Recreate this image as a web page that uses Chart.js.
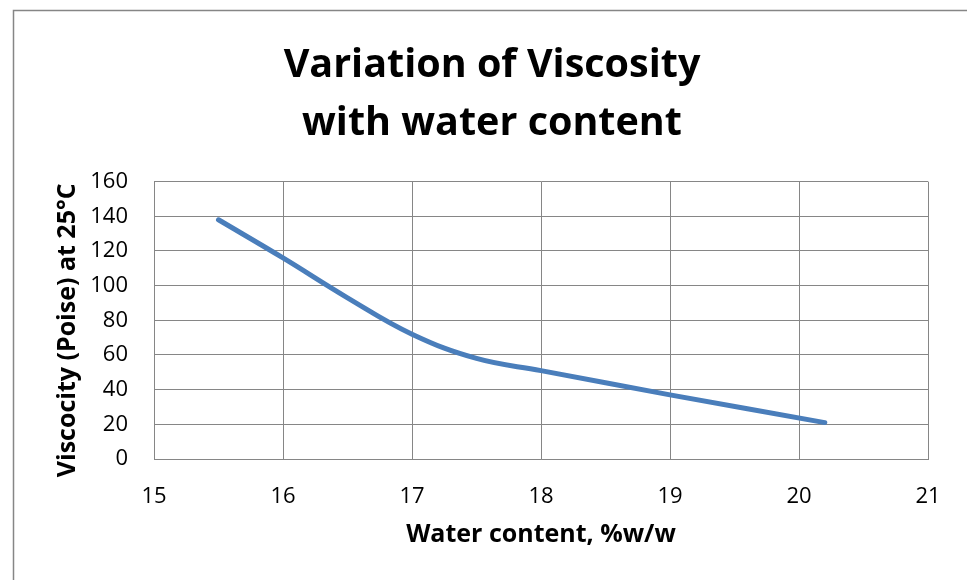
<!DOCTYPE html>
<html><head><meta charset="utf-8">
<script src="https://cdn.jsdelivr.net/npm/chart.js@4/dist/chart.umd.min.js"></script>
<style>html,body{margin:0;padding:0;background:#fff}#wrap{width:967px;height:580px;position:relative}</style>
</head><body><div id="wrap"><canvas id="c" width="967" height="580"></canvas></div>
<script>
const waterContent = [15.5, 16, 16.5, 17, 17.5, 18, 19, 20.2];
const viscosity = [138, 116, 93, 72, 58, 51, 37, 21];
const xTicks = [15, 16, 17, 18, 19, 20, 21];
const yTicks = [0, 20, 40, 60, 80, 100, 120, 140, 160];
const titleLines = ['Variation of Viscosity', 'with water content'];
const xTitle = 'Water content, %w/w';
const yTitle = 'Viscocity (Poise) at 25°C';

const FONT = '"Open Sans", sans-serif';
const GRID = '#868686';

const points = waterContent.map((x, i) => ({x, y: viscosity[i]}));

const framePlugin = {
  id: 'frame',
  beforeDraw(chart) {
    const ctx = chart.ctx;
    ctx.save();
    ctx.fillStyle = '#fff';
    ctx.fillRect(0, 0, chart.width, chart.height);
    ctx.strokeStyle = GRID;
    ctx.lineWidth = 1.5;
    ctx.strokeRect(13.5, 10.5, 1000, 1000);
    ctx.restore();
  }
};

const yTitlePlugin = {
  id: 'yTitle',
  afterDraw(chart) {
    const ctx = chart.ctx;
    const area = chart.chartArea;
    ctx.save();
    ctx.translate(68, (area.top + area.bottom) / 2 + 10);
    ctx.rotate(-Math.PI / 2);
    ctx.font = 'bold 25px ' + FONT;
    ctx.fillStyle = '#000';
    ctx.textAlign = 'center';
    ctx.textBaseline = 'middle';
    ctx.fillText(yTitle, 0, 0);
    ctx.restore();
  }
};

new Chart(document.getElementById('c'), {
  type: 'line',
  data: {
    datasets: [{
      data: points,
      borderColor: '#4a7ebb',
      borderWidth: 5,
      pointRadius: 0,
      tension: 0.4,
      borderCapStyle: 'round',
      fill: false
    }]
  },
  plugins: [framePlugin, yTitlePlugin],
  options: {
    responsive: false,
    animation: false,
    layout: {padding: {left: 56, top: 10, right: 39, bottom: 0}},
    plugins: {
      legend: {display: false},
      tooltip: {enabled: false},
      title: {
        display: true,
        text: titleLines,
        color: '#000',
        font: {family: FONT, size: 39.5, weight: 'bold', lineHeight: 1.47},
        padding: {top: 26.3, bottom: 29.2}
      }
    },
    scales: {
      x: {
        type: 'linear',
        min: xTicks[0],
        max: xTicks[xTicks.length - 1],
        afterBuildTicks(s) { s.ticks = xTicks.map(v => ({value: v})); },
        afterFit(s) { s.height = 121; },
        grid: {color: GRID, lineWidth: 1, drawTicks: false},
        border: {color: GRID, width: 1},
        ticks: {color: '#000', font: {family: FONT, size: 22}, padding: 25, maxRotation: 0},
        title: {display: true, text: xTitle, color: '#000', font: {family: FONT, size: 25, weight: 'bold', lineHeight: 1.2}, padding: {top: 0, bottom: 30}}
      },
      y: {
        type: 'linear',
        min: yTicks[0],
        max: yTicks[yTicks.length - 1],
        afterBuildTicks(s) { s.ticks = yTicks.map(v => ({value: v})); },
        afterFit(s) { s.width = 98; },
        grid: {color: GRID, lineWidth: 1, drawTicks: false},
        border: {color: GRID, width: 1},
        ticks: {color: '#000', font: {family: FONT, size: 22}, padding: 26},
        title: {display: false}
      }
    }
  }
});
</script>
</body></html>
